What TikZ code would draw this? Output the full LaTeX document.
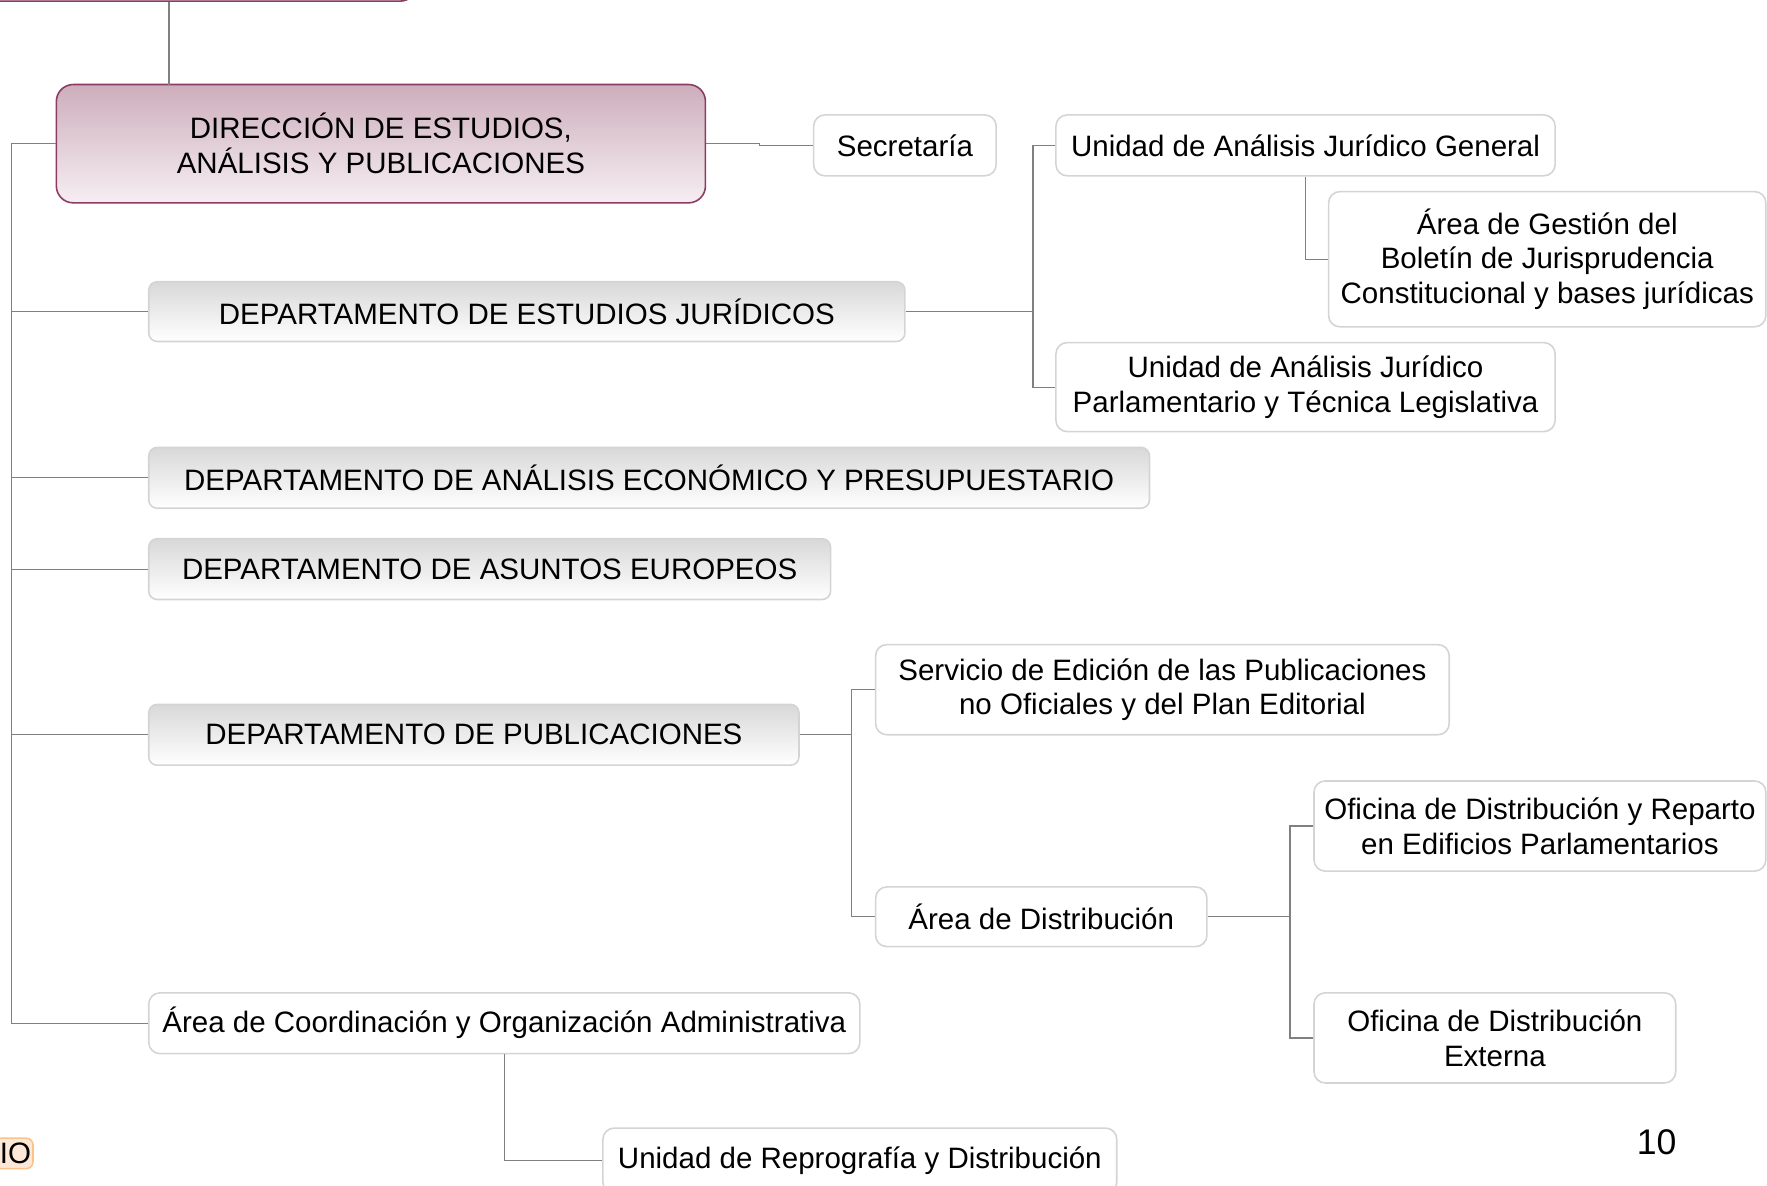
\documentclass[tikz,border=0pt]{standalone}
\usepackage{fontspec}
\setmainfont{Liberation Sans}
\usepackage{tikz}
\definecolor{dirmaroon}{RGB}{140,60,98}
\definecolor{dirpink}{RGB}{205,174,188}
\definecolor{dirlight}{RGB}{246,238,242}
\definecolor{deptgray}{RGB}{216,216,216}
\definecolor{boxline}{RGB}{212,212,212}
\definecolor{linegray}{RGB}{128,128,128}
\definecolor{ioorange}{RGB}{250,195,140}
\definecolor{iofill}{RGB}{253,232,215}

\begin{document}
\begin{tikzpicture}[x=0.02cm, y=-0.02cm,
    font=\fontsize{14.9}{17.6}\selectfont,
    conn/.style={draw=linegray, line width=0.6pt},
    sz/.style 2 args={minimum width=#1*0.02cm, minimum height=#2*0.02cm},
    dirbox/.style={draw=dirmaroon, line width=0.8pt, rounded corners=0.3cm, top color=dirpink, middle color=dirpink!90, bottom color=dirlight, align=center, inner sep=0pt},
    deptbox/.style={draw=boxline, line width=0.8pt, rounded corners=0.15cm, top color=deptgray, bottom color=white, inner sep=0pt},
    unitbox/.style={draw=boxline, line width=0.8pt, fill=white, rounded corners=0.2cm, align=center, inner sep=0pt}]
  \useasboundingbox (0,0) rectangle (1568,1052);
  \clip (0,0) rectangle (1568,1052);

  % direccion y departamentos
  \node[dirbox, sz={400}{61}] (top) at (170,-29.5) {};
  \node[dirbox, sz={576}{105}] (dir) at (338,127.5) {DIRECCIÓN DE ESTUDIOS,\\ ANÁLISIS Y PUBLICACIONES};
  \node[unitbox, sz={162}{54}] (sec) at (803,129) {Secretaría};
  \node[deptbox, sz={671}{53}] (dej) at (467.5,276.5) {DEPARTAMENTO DE ESTUDIOS JURÍDICOS};
  \node[deptbox, sz={888}{54}] (dae) at (576,424) {DEPARTAMENTO DE ANÁLISIS ECONÓMICO Y PRESUPUESTARIO};
  \node[deptbox, sz={605}{54}] (dau) at (434.5,505) {DEPARTAMENTO DE ASUNTOS EUROPEOS};
  \node[deptbox, sz={577}{54}] (dpub) at (420.5,652) {DEPARTAMENTO DE PUBLICACIONES};
  \node[unitbox, sz={631}{54}] (aco) at (447.5,908) {Área de Coordinación y Organización Administrativa};
  \node[unitbox, sz={456}{58}] (urep) at (763,1030) {Unidad de Reprografía y Distribución};

  % unidades
  \node[unitbox, sz={443}{54}] (uag) at (1158.5,129) {Unidad de Análisis Jurídico General};
  \node[unitbox, sz={388}{120}] (agb) at (1373,230) {Área de Gestión del\\ Boletín de Jurisprudencia\\ Constitucional y bases jurídicas};
  \node[unitbox, sz={443}{79}] (uap) at (1158.5,343.5) {Unidad de Análisis Jurídico\\ Parlamentario y Técnica Legislativa};
  \node[unitbox, sz={509}{80}] (sed) at (1031.5,612) {Servicio de Edición de las Publicaciones\\ no Oficiales y del Plan Editorial};
  \node[unitbox, sz={294}{53}] (adist) at (924,813.5) {Área de Distribución};
  \node[unitbox, sz={401}{80}] (ofr) at (1366.5,733) {Oficina de Distribución y Reparto\\ en Edificios Parlamentarios};
  \node[unitbox, sz={321}{80}] (ofe) at (1326.5,921) {Oficina de Distribución\\ Externa};

  \node[font=\fontsize{18}{20}\selectfont] (pnum) at (1470,1014) {10};
  \node[draw=ioorange, fill=iofill, line width=0.8pt, rounded corners=0.12cm, anchor=east, text width=2cm, align=right, minimum height=27*0.02cm, inner sep=1pt] (io) at (30,1023.5) {IO};

  % conectores
  \coordinate (trunk) at (10,127.5);
  \draw[conn] (dir.west) -- (trunk);
  \foreach \n in {dej,dae,dau,dpub,aco}
    \draw[conn] (trunk) |- (\n.west);
  \coordinate (dirtop) at (150,75);
  \draw[conn] (dirtop) -- (dirtop |- top.south);
  \draw[conn] (dir.east) -- ++(47,0) |- (sec.west);
  \draw[conn] (dej.east) -- ++(113,0) coordinate (jb);
  \foreach \n in {uag,uap}
    \draw[conn] (jb) |- (\n.west);
  \draw[conn] (uag.south) |- (agb.west);
  \draw[conn] (dpub.east) -- ++(46,0) coordinate (pb);
  \foreach \n in {sed,adist}
    \draw[conn] (pb) |- (\n.west);
  \draw[conn] (adist.east) -- ++(73,0) coordinate (db);
  \foreach \n in {ofr,ofe}
    \draw[conn] (db) |- (\n.west);
  \draw[conn] (aco.south) |- (urep.west);
\end{tikzpicture}
\end{document}
